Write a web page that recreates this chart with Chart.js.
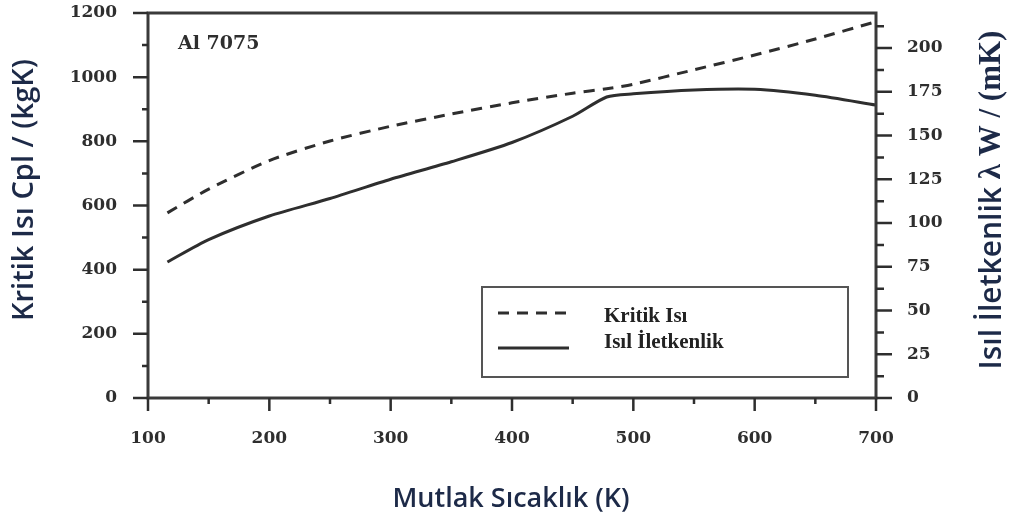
<!DOCTYPE html>
<html>
<head>
<meta charset="utf-8">
<script src="https://cdn.jsdelivr.net/npm/chart.js@4.4.1/dist/chart.umd.min.js"></script>
<style>
  html, body { margin: 0; padding: 0; background: #fff; }
  #wrap { width: 1011px; height: 522px; }
</style>
</head>
<body>
<div id="wrap"><canvas id="alChart" width="1011" height="522"></canvas></div>
<script>
// values
const temps = [116, 150, 200, 250, 300, 350, 400, 450, 478, 500, 550, 600, 650, 700];
const kritikIsi = [577, 651, 740, 801, 847, 885, 920, 950, 964, 978, 1023, 1069, 1119, 1173];
const isilIletkenlik = [77.7, 90.5, 104, 114, 125, 135, 146, 161, 172, 173.8, 176, 176.4, 173, 167.4];

const xTicks = [100, 200, 300, 400, 500, 600, 700];
const leftTicks = [0, 200, 400, 600, 800, 1000, 1200];
const rightTicks = [0, 25, 50, 75, 100, 125, 150, 175, 200];

const seriesNames = ['Kritik Isı', 'Isıl İletkenlik'];

const ink = '#2e2e2e';
const navy = '#1d2a48';
const tickFont = { family: 'DejaVu Serif', size: 17, weight: 'bold' };

function pts(ys) {
    return temps.map((t, i) => ({ x: t, y: ys[i] }));
}

// y scales add tick padding to their top/bottom padding; drop it so the plot box sits where it should
function fixVertical(width) {
    return s => {
        s.width = width;
        s.paddingTop = 0;
        s.paddingBottom = 0;
    };
}

// tick marks, frame, legend box and titles
const decor = {
    id: 'decor',
    afterDraw(chart) {
        const ctx = chart.ctx;
        const a = chart.chartArea;
        const sx = chart.scales.x, sy = chart.scales.y, sy1 = chart.scales.y1;
        ctx.save();

        // frame
        ctx.strokeStyle = '#3a3a3a';
        ctx.lineWidth = 3;
        ctx.strokeRect(a.left, a.top, a.right - a.left, a.bottom - a.top);

        // tick marks (major + minor)
        ctx.lineWidth = 2.5;
        ctx.strokeStyle = ink;
        ctx.beginPath();
        for (let v = 0; v <= 1200; v += 100) {
            const p = sy.getPixelForValue(v);
            const len = v % 200 === 0 ? 15 : 6;
            ctx.moveTo(a.left, p); ctx.lineTo(a.left - len, p);
        }
        for (let v = 0; v <= 220; v += 12.5) {
            const p = sy1.getPixelForValue(v);
            const len = v % 25 === 0 ? 16 : 8;
            ctx.moveTo(a.right, p); ctx.lineTo(a.right + len, p);
        }
        for (let v = 100; v <= 700; v += 50) {
            const p = sx.getPixelForValue(v);
            const len = v % 100 === 0 ? 13 : 6;
            ctx.moveTo(p, a.bottom); ctx.lineTo(p, a.bottom + len);
        }
        ctx.stroke();

        // alloy label
        ctx.fillStyle = ink;
        ctx.font = 'bold 19px "DejaVu Serif"';
        ctx.textBaseline = 'middle';
        ctx.textAlign = 'left';
        ctx.fillText('Al 7075', 178, 44);

        // legend
        ctx.strokeStyle = '#555';
        ctx.lineWidth = 2;
        ctx.strokeRect(482, 287, 366, 90);
        chart.data.datasets.forEach((ds, i) => {
            const y = i === 0 ? 313 : 348;
            ctx.strokeStyle = ds.borderColor;
            ctx.lineWidth = ds.borderWidth;
            ctx.setLineDash(ds.borderDash || []);
            ctx.beginPath();
            ctx.moveTo(498, y); ctx.lineTo(569, y);
            ctx.stroke();
            ctx.setLineDash([]);
            ctx.fillStyle = '#222';
            ctx.font = 'bold 21px "Liberation Serif"';
            ctx.fillText(ds.label, 604, i === 0 ? 317 : 343);
        });

        // axis titles
        ctx.fillStyle = navy;
        ctx.textAlign = 'center';
        ctx.font = '600 27px "Open Sans"';
        ctx.fillText('Mutlak Sıcaklık (K)', 511, 499);

        ctx.save();
        ctx.translate(25, 190);
        ctx.rotate(-Math.PI / 2);
        ctx.font = '600 29px "Open Sans"';
        ctx.fillText('Kritik Isı Cpl / (kgK)', 0, 0);
        ctx.restore();

        ctx.save();
        ctx.translate(992, 200);
        ctx.rotate(-Math.PI / 2);
        const partA = 'Isıl İletkenlik ';
        const partB = 'λ W / (mK)';
        const fontA = '600 30px "Open Sans"';
        const fontB = 'bold 31px "Liberation Serif"';
        ctx.font = fontA; const wA = ctx.measureText(partA).width;
        ctx.font = fontB; const wB = ctx.measureText(partB).width;
        ctx.textAlign = 'left';
        const x0 = -(wA + wB) / 2;
        ctx.font = fontA; ctx.fillText(partA, x0, 0);
        ctx.font = fontB; ctx.fillText(partB, x0 + wA, 0);
        ctx.restore();

        ctx.restore();
    }
};

const config = {
    type: 'line',
    data: {
        datasets: [{
            label: seriesNames[0],
            data: pts(kritikIsi),
            yAxisID: 'y',
            borderColor: ink,
            borderWidth: 3,
            borderDash: [11, 8],
            pointRadius: 0,
            tension: 0.25
        }, {
            label: seriesNames[1],
            data: pts(isilIletkenlik),
            yAxisID: 'y1',
            borderColor: ink,
            borderWidth: 3,
            pointRadius: 0,
            tension: 0.25
        }]
    },
    options: {
        responsive: false,
        animation: false,
        layout: { padding: { top: 13, left: 0, right: 0, bottom: 0 } },
        plugins: {
            legend: { display: false },
            tooltip: { enabled: false }
        },
        scales: {
            x: {
                type: 'linear',
                min: 100,
                max: 700,
                grid: { display: false, drawTicks: false },
                border: { display: false },
                afterBuildTicks: s => { s.ticks = xTicks.map(v => ({ value: v })); },
                afterFit: s => { s.height = 124; },
                ticks: { font: tickFont, color: ink, padding: 30, maxRotation: 0, callback: v => String(v) }
            },
            y: {
                position: 'left',
                min: 0,
                max: 1200,
                grid: { display: false, drawTicks: false },
                border: { display: false },
                afterBuildTicks: s => { s.ticks = leftTicks.map(v => ({ value: v })); },
                afterFit: fixVertical(148),
                ticks: { font: tickFont, color: ink, padding: 31, callback: v => String(v) }
            },
            y1: {
                position: 'right',
                min: 0,
                max: 220,
                grid: { display: false, drawTicks: false },
                border: { display: false },
                afterBuildTicks: s => { s.ticks = rightTicks.map(v => ({ value: v })); },
                afterFit: fixVertical(135),
                ticks: { font: tickFont, color: ink, padding: 31, callback: v => String(v) }
            }
        }
    },
    plugins: [decor]
};

window.onload = function () {
    const ctx = document.getElementById('alChart').getContext('2d');
    new Chart(ctx, config);
};
</script>
</body>
</html>
